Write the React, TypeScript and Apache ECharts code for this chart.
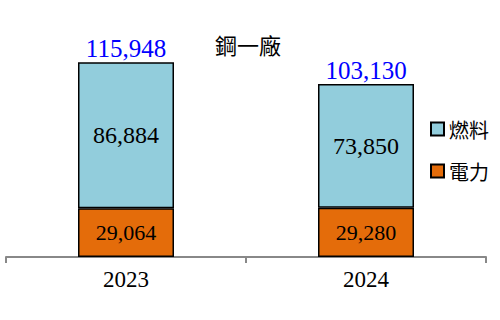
import React, { useEffect, useRef } from "react";
import * as echarts from "echarts";

const title = "鋼一廠";
const categories = ["2023", "2024"];
const electricity = [29064, 29280];
const fuel = [86884, 73850];
const seriesNames = ["燃料", "電力"];

const fmt = (v: number) => v.toLocaleString("en-US");

export default function App() {
  const ref = useRef<HTMLDivElement>(null);
  useEffect(() => {
    document.body.style.margin = "0";
    const chart = echarts.init(ref.current!, null, { renderer: "svg" });
    const totals = categories.map((_, i) => electricity[i] + fuel[i]);
    const serif = "'Liberation Serif', 'Times New Roman', serif";
    const cjk = "'Noto Sans CJK TC', sans-serif";
    chart.setOption({
      animation: false,
      title: {
        text: title,
        left: 210,
        top: 28,
        textStyle: { fontFamily: cjk, fontSize: 22, fontWeight: "normal", color: "#000" },
      },
      legend: {
        data: seriesNames,
        orient: "vertical",
        left: 425,
        top: 114,
        itemWidth: 13,
        itemHeight: 13,
        itemGap: 22,
        icon: "rect",
        textStyle: { fontFamily: cjk, fontSize: 20, color: "#000" },
        selectedMode: false,
      },
      grid: { left: 6, right: 14, top: 22, bottom: 63 },
      xAxis: {
        type: "category",
        data: categories,
        axisLine: { lineStyle: { color: "#888", width: 2 } },
        axisTick: { show: true, length: 6, lineStyle: { color: "#888", width: 2 } },
        axisLabel: { fontFamily: serif, fontSize: 23, color: "#000", margin: 11 },
      },
      yAxis: { type: "value", min: 0, max: 140000, show: false, splitLine: { show: false } },
      series: [
        {
          name: "電力",
          type: "bar",
          stack: "s",
          barWidth: "40%",
          data: electricity,
          itemStyle: { color: "#E46C0A", borderColor: "#000", borderWidth: 1.5 },
          label: { show: true, position: "inside", fontFamily: serif, fontSize: 22, color: "#000", formatter: (p: any) => fmt(p.value) },
        },
        {
          name: "燃料",
          type: "bar",
          stack: "s",
          barWidth: "40%",
          data: fuel,
          itemStyle: { color: "#92CDDC", borderColor: "#000", borderWidth: 1.5 },
          label: { show: true, position: "inside", fontFamily: serif, fontSize: 24, color: "#000", formatter: (p: any) => fmt(p.value) },
        },
        {
          name: "total",
          type: "bar",
          stack: "s",
          barWidth: "40%",
          data: totals.map(() => 0),
          itemStyle: { color: "transparent" },
          label: {
            show: true,
            position: "top",
            distance: 1,
            fontFamily: serif,
            fontSize: 25,
            color: "#0000FF",
            formatter: (p: any) => fmt(totals[p.dataIndex]),
          },
        },
      ],
    });
    return () => chart.dispose();
  }, []);
  return <div ref={ref} style={{ width: 500, height: 320 }} />;
}
